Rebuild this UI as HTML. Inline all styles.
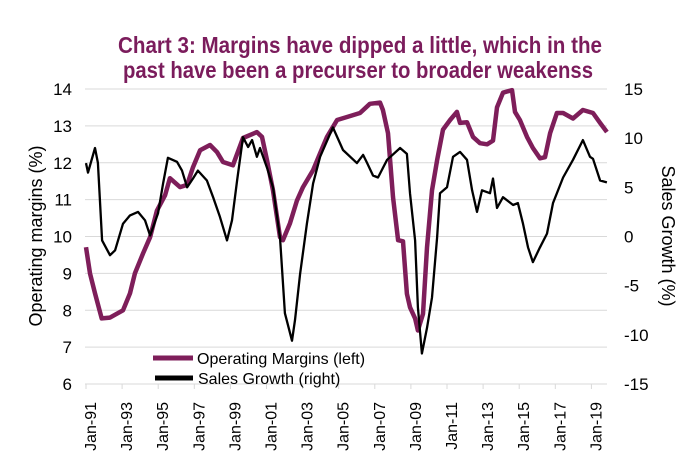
<!DOCTYPE html>
<html><head><meta charset="utf-8"><style>
html,body{margin:0;padding:0;background:#fff;}
svg{display:block;font-family:"Liberation Sans",Arial,sans-serif;}
</style></head><body>
<svg id="chart" width="700" height="470" viewBox="0 0 700 470" xmlns="http://www.w3.org/2000/svg">
<g fill="#7b1c5c" font-weight="bold" font-size="23" text-anchor="middle">
<text x="360" y="53" textLength="484" lengthAdjust="spacingAndGlyphs">Chart 3: Margins have dipped a little, which in the</text>
<text x="358" y="78" textLength="470" lengthAdjust="spacingAndGlyphs">past have been a precurser to broader weakenss</text>
</g>
<g id="grid"></g>
<g id="axes"></g>
<g id="series"></g>
<text transform="translate(42,236) rotate(-90)" text-anchor="middle" font-size="18" fill="#000">Operating  margins (%)</text>
<text transform="translate(662,236) rotate(90)" text-anchor="middle" font-size="18" fill="#000">Sales Growth  (%)</text>
<g>
<g>
<line x1="153" y1="358" x2="193" y2="358" stroke="#7e1e5a" stroke-width="5"/>
<text x="197" y="364" font-size="16">Operating Margins (left)</text>
</g>
<g>
<line x1="155" y1="378" x2="193" y2="378" stroke="#000" stroke-width="5"/>
<text x="198" y="384" font-size="16">Sales Growth (right)</text>
</g>
</g>
</svg>
<script>
const marginYears=[1991.0,1991.22,1991.5,1991.87,1992.33,1993.05,1993.44,1993.71,1994.16,1994.55,1994.93,1995.38,1995.65,1996.21,1996.6,1996.93,1997.32,1997.87,1998.26,1998.59,1999.14,1999.7,2000.47,2000.75,2001.03,2001.36,2001.75,2001.91,2002.3,2002.69,2003.02,2003.58,2003.97,2004.35,2004.91,2005.46,2006.18,2006.73,2007.29,2007.45,2007.73,2008.01,2008.29,2008.56,2008.78,2008.95,2009.23,2009.39,2009.67,2009.89,2010.17,2010.45,2010.78,2011.17,2011.55,2011.72,2012.11,2012.44,2012.83,2013.22,2013.55,2013.77,2014.1,2014.6,2014.77,2015.04,2015.43,2015.76,2016.15,2016.43,2016.71,2017.09,2017.43,2017.98,2018.53,2019.09,2019.48,2019.86];
const marginValues=[9.71,9.0,8.46,7.78,7.8,8.0,8.46,9.0,9.54,9.98,10.7,11.12,11.58,11.34,11.4,11.88,12.34,12.48,12.29,12.02,11.93,12.67,12.83,12.7,12.07,11.25,9.98,9.9,10.36,10.98,11.34,11.8,12.26,12.7,13.16,13.24,13.35,13.6,13.63,13.43,12.8,11.07,9.9,9.87,8.45,8.08,7.78,7.45,7.9,9.7,11.25,12.07,12.9,13.16,13.38,13.08,13.1,12.7,12.53,12.5,12.6,13.5,13.9,13.97,13.38,13.16,12.7,12.4,12.12,12.15,12.8,13.35,13.35,13.2,13.43,13.35,13.08,12.83];
const salesYears=[1991.0,1991.11,1991.5,1991.66,1991.89,1992.33,1992.61,1993.05,1993.44,1993.88,1994.27,1994.55,1994.99,1995.27,1995.54,1996.04,1996.32,1996.6,1996.93,1997.2,1997.7,1998.04,1998.42,1998.81,1999.09,1999.37,1999.7,1999.98,2000.2,2000.47,2000.64,2001.03,2001.36,2001.75,2002.02,2002.41,2002.58,2002.86,2003.24,2003.58,2003.97,2004.68,2005.24,2006.01,2006.35,2006.57,2006.9,2007.18,2007.68,2008.4,2008.78,2008.95,2009.23,2009.39,2009.61,2009.89,2010.17,2010.45,2010.61,2011.0,2011.33,2011.72,2012.11,2012.39,2012.66,2012.94,2013.38,2013.55,2013.77,2014.1,2014.66,2014.93,2015.21,2015.49,2015.76,2016.15,2016.54,2016.87,2017.43,2017.98,2018.53,2018.92,2019.09,2019.48,2019.86];
const salesValues=[7.46,6.5,9.0,7.5,-0.4,-1.9,-1.4,1.3,2.15,2.5,1.65,0.1,2.35,5.4,8.0,7.6,6.7,5.0,5.9,6.7,5.7,4.0,2.0,-0.4,1.65,5.7,10.1,9.1,9.8,8.1,9.0,7.0,5.0,-0.1,-7.8,-10.6,-8.5,-3.8,1.3,5.4,8.1,11.1,8.8,7.46,8.3,7.5,6.2,6.0,7.8,9.0,8.4,4.4,-0.4,-7.2,-11.9,-9.3,-6.2,-0.1,4.4,5.0,8.1,8.6,7.8,4.7,2.5,4.7,4.4,5.9,2.9,4.0,3.2,3.4,1.3,-1.1,-2.6,-1.1,0.3,3.4,6.0,7.8,9.8,8.1,7.9,5.7,5.5];
const xTickYears=[1991,1993,1995,1997,1999,2001,2003,2005,2007,2009,2011,2013,2015,2017,2019];
const xTickLabels=["Jan-91","Jan-93","Jan-95","Jan-97","Jan-99","Jan-01","Jan-03","Jan-05","Jan-07","Jan-09","Jan-11","Jan-13","Jan-15","Jan-17","Jan-19"];
const leftTicks=[6,7,8,9,10,11,12,13,14];
const rightTicks=[-15,-10,-5,0,5,10,15];

const NS="http://www.w3.org/2000/svg";
const X0=86,PX_PER_YEAR=18.05,PL=85,PR=607,YT=89,YB=384;
function xS(t){return X0+(t-1991)*PX_PER_YEAR;}
function yL(v){return YB-(v-6)/(14-6)*(YB-YT);}
function yR(v){return YB-(v+15)/30*(YB-YT);}
function mk(tag,attrs,parent){const e=document.createElementNS(NS,tag);for(const k in attrs)e.setAttribute(k,attrs[k]);parent.appendChild(e);return e;}
const grid=document.getElementById('grid'),axes=document.getElementById('axes'),series=document.getElementById('series');
leftTicks.forEach(v=>{
  if(v>6){const g=mk('line',{x1:PL,x2:PR,y1:yL(v),y2:yL(v),stroke:'#d9d9d9','stroke-width':1},grid);
  
  }
  const t=mk('text',{x:72,y:yL(v)+6,'text-anchor':'end','font-size':17},axes);t.textContent=v;
  
  
});
rightTicks.forEach(v=>{
  const t=mk('text',{x:624,y:yR(v)+6,'font-size':17},axes);t.textContent=v;
  
  
});
const ax=mk('line',{x1:PL,x2:PR,y1:YB,y2:YB,stroke:'#d9d9d9','stroke-width':1},axes);


xTickYears.forEach((yr,i)=>{
  const x=xS(yr);
  const tk=mk('line',{x1:x,x2:x,y1:YB,y2:YB+5,stroke:'#d9d9d9'},axes);
  
  
  const t=mk('text',{transform:`translate(${x+10},402) rotate(-90)`,'text-anchor':'end','font-size':16},axes);
  t.textContent=xTickLabels[i];
  
  
});
function path(xs,vs,ys){return xs.map((t,i)=>(i?'L':'M')+xS(t).toFixed(1)+','+ys(vs[i]).toFixed(1)).join(' ');}
const pm=mk('path',{d:path(marginYears,marginValues,yL),fill:'none',stroke:'#7e1e5a','stroke-width':4.5,'stroke-linejoin':'round'},series);


const ps=mk('path',{d:path(salesYears,salesValues,yR),fill:'none',stroke:'#000','stroke-width':2.3,'stroke-linejoin':'round'},series);


</script>
</body></html>
